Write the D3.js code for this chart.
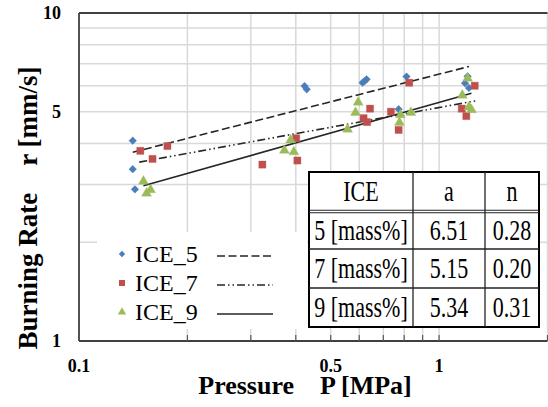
<!DOCTYPE html>
<html>
<head>
<meta charset="utf-8">
<script src="https://cdn.jsdelivr.net/npm/d3@7"></script>
<style>
  body { margin: 0; background: #fff; }
  svg text { font-family: "Liberation Serif", "DejaVu Serif", "Times New Roman", serif; fill: #000; }
</style>
</head>
<body>
<svg id="chart" width="548" height="407"></svg>
<script>
// Data: [pressure MPa, burning rate mm/s]
var ice5Points = [
  [0.141, 4.08], [0.141, 3.34], [0.143, 2.90],
  [0.423, 5.99], [0.429, 5.85],
  [0.613, 6.13], [0.621, 6.20], [0.629, 6.28],
  [0.772, 5.09], [0.812, 6.40],
  [1.18, 6.11], [1.20, 6.41], [1.21, 5.91]
];
var ice7Points = [
  [0.148, 3.80], [0.160, 3.59], [0.176, 3.93],
  [0.323, 3.45], [0.401, 4.15], [0.404, 3.55],
  [0.617, 4.78], [0.631, 4.65], [0.643, 5.11],
  [0.735, 5.00], [0.772, 4.40], [0.826, 6.13],
  [1.156, 5.11], [1.19, 4.85], [1.256, 6.00]
];
var ice9Points = [
  [0.151, 3.07], [0.154, 2.82], [0.158, 2.89],
  [0.372, 3.81], [0.387, 4.10], [0.395, 3.77],
  [0.557, 4.42], [0.586, 4.97], [0.596, 5.34],
  [0.776, 4.63], [0.781, 4.89], [0.835, 4.97],
  [1.16, 5.61], [1.20, 6.32], [1.21, 5.17], [1.23, 5.07]
];

// fit table r = a * P^n
var seriesNames = ["ICE_5", "ICE_7", "ICE_9"];
var tableHeader = ["ICE", "a", "n"];
var tableLabels = ["5 [mass%]", "7 [mass%]", "9 [mass%]"];
var aValues = [6.51, 5.15, 5.34];
var nValues = [0.28, 0.20, 0.31];
// pressure span of each trend line
var trendRanges = [[0.141, 1.21], [0.147, 1.26], [0.151, 1.23]];

var xTicks = [0.1, 0.5, 1];
var yTicks = [1, 5, 10];
var xGrid = [0.2, 0.3, 0.4, 0.5, 0.6, 0.7, 0.8, 0.9, 1, 2];
var yGrid = [2, 3, 4, 5, 6, 7, 8, 9];

var colors = ["#4a7ebb", "#c0504d", "#9bbb59"];
var dashes = ["8,3.5", "8,3,1.5,3,1.5,3", null];

var svg = d3.select("#chart");
var plotL = 79, plotR = 547.5, plotT = 13, plotB = 341;

var x = d3.scaleLog().domain([0.1, 2]).range([plotL, plotR]);
var y = d3.scaleLog().domain([1, 10]).range([plotB, plotT]);

// gridlines
svg.append("g").selectAll("line").data(yGrid).enter().append("line")
  .attr("x1", plotL).attr("x2", plotR)
  .attr("y1", d => y(d)).attr("y2", d => y(d))
  .attr("stroke", "#d9d9d9").attr("stroke-width", 1.5);
svg.append("g").selectAll("line").data(xGrid).enter().append("line")
  .attr("x1", d => x(d)).attr("x2", d => x(d))
  .attr("y1", plotT).attr("y2", plotB)
  .attr("stroke", "#d9d9d9").attr("stroke-width", 1.5);

// trend lines
var trendGroup = svg.append("g");
seriesNames.forEach(function(name, i) {
  var pts = trendRanges[i].map(p => [p, aValues[i] * Math.pow(p, nValues[i])]);
  trendGroup.append("path")
    .attr("d", d3.line().x(d => x(d[0])).y(d => y(d[1]))(pts))
    .attr("fill", "none")
    .attr("stroke", "#262626")
    .attr("stroke-width", 1.6)
    .attr("stroke-dasharray", dashes[i]);
});

// markers (diamond = square turned 45 degrees)
var shapes = [d3.symbolSquare, d3.symbolSquare, d3.symbolTriangle];
var turns = [45, 0, 0];
var sizes = [30, 52, 44];
[ice5Points, ice7Points, ice9Points].forEach(function(pts, i) {
  svg.append("g").selectAll("path").data(pts).enter().append("path")
    .attr("transform", d => `translate(${x(d[0])},${y(d[1])}) rotate(${turns[i]})`)
    .attr("d", d3.symbol().type(shapes[i]).size(sizes[i]))
    .attr("fill", colors[i])
    .attr("stroke", colors[i]).attr("stroke-width", 0.6).attr("stroke-opacity", 0.5);
});

// axis frame
svg.append("line").attr("x1", plotL).attr("x2", plotR).attr("y1", plotT).attr("y2", plotT)
  .attr("stroke", "#404040").attr("stroke-width", 1.8);
svg.append("line").attr("x1", plotL).attr("x2", plotL).attr("y1", plotT).attr("y2", plotB)
  .attr("stroke", "#404040").attr("stroke-width", 1.8);
svg.append("line").attr("x1", plotL).attr("x2", plotR).attr("y1", plotB).attr("y2", plotB)
  .attr("stroke", "#404040").attr("stroke-width", 2);

// legend box
var leg = svg.append("g");
leg.append("rect").attr("x", 97).attr("y", 232).attr("width", 210).attr("height", 97).attr("fill", "#fff");
var legendMarkerSizes = [20, 36, 30];
seriesNames.forEach(function(name, i) {
  var ly = 254 + i * 29;
  leg.append("path")
    .attr("transform", `translate(122,${ly}) rotate(${turns[i]})`)
    .attr("d", d3.symbol().type(shapes[i]).size(legendMarkerSizes[i]))
    .attr("fill", colors[i]);
  leg.append("text").attr("x", 135).attr("y", ly + 8)
    .style("font-size", "24px").text(name);
  leg.append("line").attr("x1", 217).attr("x2", 273).attr("y1", ly + 2).attr("y2", ly + 2)
    .attr("stroke", "#262626").attr("stroke-width", 1.6)
    .attr("stroke-dasharray", dashes[i]);
});

// inside tick marks on x axis
svg.append("g").selectAll("line").data(xGrid).enter().append("line")
  .attr("x1", d => x(d)).attr("x2", d => x(d))
  .attr("y1", plotB - 6).attr("y2", plotB)
  .attr("stroke", "#595959").attr("stroke-width", 1.2);

// fit table
var tx = [309, 413, 485, 539];
var ty = [172, 211.5, 249, 288, 327];
var tbl = svg.append("g");
tbl.append("rect").attr("x", tx[0]).attr("y", ty[0])
  .attr("width", tx[3] - tx[0]).attr("height", ty[4] - ty[0])
  .attr("fill", "#fff").attr("stroke", "#000").attr("stroke-width", 2);
[tx[1], tx[2]].forEach(function(cx) {
  tbl.append("line").attr("x1", cx).attr("x2", cx).attr("y1", ty[0]).attr("y2", ty[4])
    .attr("stroke", "#222").attr("stroke-width", 1.3);
});
[ty[2], ty[3]].forEach(function(cy) {
  tbl.append("line").attr("x1", tx[0]).attr("x2", tx[3]).attr("y1", cy).attr("y2", cy)
    .attr("stroke", "#222").attr("stroke-width", 1.3);
});
[ty[1] - 1.2, ty[1] + 1.2].forEach(function(cy) {
  tbl.append("line").attr("x1", tx[0]).attr("x2", tx[3]).attr("y1", cy).attr("y2", cy)
    .attr("stroke", "#222").attr("stroke-width", 1.1);
});
function cellText(col, row, txt) {
  var cx = (tx[col] + tx[col + 1]) / 2;
  var cy = (ty[row] + ty[row + 1]) / 2 + 9.5;
  tbl.append("text")
    .attr("transform", `translate(${cx},${cy}) scale(1,1.3)`)
    .attr("text-anchor", "middle")
    .style("font-size", "22px")
    .text(txt);
}
tableHeader.forEach((h, c) => cellText(c, 0, h));
tableLabels.forEach(function(lbl, r) {
  cellText(0, r + 1, lbl);
  cellText(1, r + 1, aValues[r].toFixed(2));
  cellText(2, r + 1, nValues[r].toFixed(2));
});

// tick labels
svg.append("g").selectAll("text").data(yTicks).enter().append("text")
  .attr("x", 61).attr("y", d => y(d)).attr("dy", "0.35em")
  .attr("text-anchor", "end")
  .style("font-size", "18px").style("font-weight", "bold")
  .text(d => d);
svg.append("g").selectAll("text").data(xTicks).enter().append("text")
  .attr("x", d => x(d)).attr("y", 372)
  .attr("text-anchor", "middle")
  .style("font-size", "18px").style("font-weight", "bold")
  .text(d => d);

// axis titles
svg.append("text")
  .attr("x", 305).attr("y", 394)
  .attr("text-anchor", "middle")
  .style("font-size", "26px").style("font-weight", "bold")
  .attr("xml:space", "preserve")
  .text("Pressure    P [MPa]");
svg.append("text")
  .attr("transform", "translate(37,208) rotate(-90)")
  .attr("text-anchor", "middle")
  .style("font-size", "27px").style("font-weight", "bold")
  .attr("xml:space", "preserve")
  .text("Burning Rate    r [mm/s]");
</script>
</body>
</html>
